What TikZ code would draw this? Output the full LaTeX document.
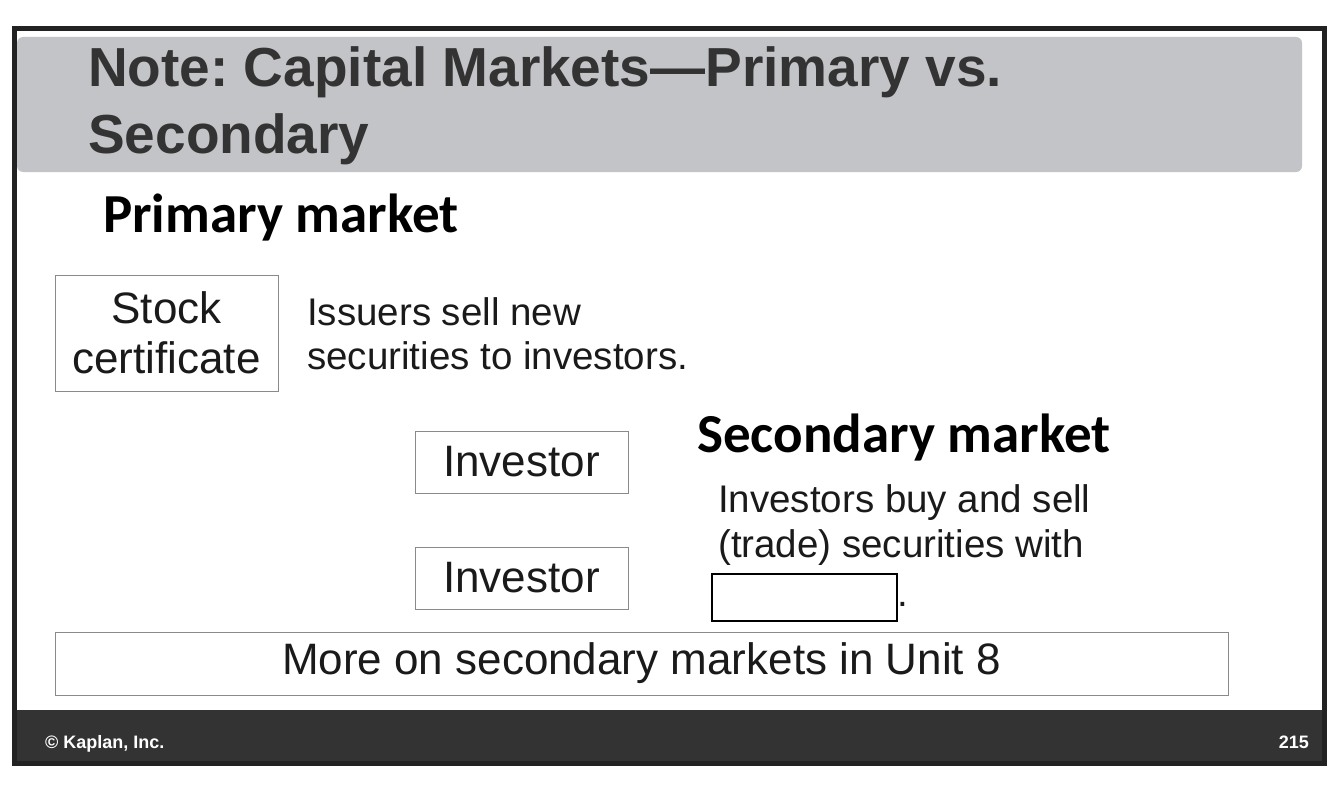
\documentclass[tikz,border=0pt]{standalone}
\usepackage{fontspec}
\setmainfont{Liberation Sans}
\newfontfamily\headfont{Carlito}
\frenchspacing
\definecolor{titlegrey}{HTML}{C3C4C7}
\definecolor{darkbar}{HTML}{333333}
\definecolor{frame}{HTML}{222222}
\definecolor{boxline}{HTML}{8A8A8A}
\definecolor{txt}{HTML}{1A1A1A}
\begin{document}
\begin{tikzpicture}[x=1pt,y=-1pt,
  plainbox/.style={draw=boxline, line width=1pt, fill=white, inner sep=0pt, align=center, text=txt, font=\fontsize{44}{50}\selectfont},
  bodytext/.style={anchor=base west, inner sep=0pt, text=txt, font=\fontsize{38.5}{45}\selectfont},
  headtext/.style={anchor=base west, inner sep=0pt, text=black, font=\headfont\bfseries\fontsize{55}{60}\selectfont},
  titletext/.style={anchor=base west, inner sep=0pt, text=darkbar, font=\bfseries\fontsize{55}{66}\selectfont},
  foottext/.style={inner sep=0pt, text=white, font=\bfseries\fontsize{18}{20}\selectfont}]
\useasboundingbox (0,0) rectangle (1334,792);
\fill[white] (0,0) rectangle (1334,792);
% title bar
\fill[titlegrey, rounded corners=6pt] (17,37) rectangle (1302,172);
\node[titletext] (t1) at (88,86) {Note: Capital Markets—Primary vs.};
\node[titletext] (t2) at (88,153) {Secondary};
% footer bar
\fill[darkbar] (16,710) rectangle (1324,763);
\node[foottext, anchor=base west] (copy) at (45,748) {© Kaplan, Inc.};
\node[foottext, anchor=base east] (page) at (1309,748) {215};
% frame
\draw[frame, line width=5pt] (14.5,28.5) rectangle (1324.5,763.5);
% primary market
\node[headtext] (prim) at (103,232) {Primary market};
\node[plainbox, minimum width=223pt, minimum height=116pt] (stock) at (166.5,333) {Stock\\certificate};
\node[bodytext] (iss1) at (307,325) {Issuers sell new};
\node[bodytext] (iss2) at (307,369) {securities to investors.};
\node[plainbox, minimum width=213pt, minimum height=62pt] (inv1) at (521.5,462) {Investor};
\node[plainbox, minimum width=213pt, minimum height=62pt] (inv2) at (521.5,578) {Investor};
% secondary market
\node[headtext] (sec) at (697,452) {Secondary market};
\node[bodytext] (sb1) at (718,512) {Investors buy and sell};
\node[bodytext] (sb2) at (718,557) {(trade) securities with};
\node[draw=black, line width=1.5pt, fill=white, minimum width=185pt, minimum height=47pt, inner sep=0pt] (blank) at (804.5,597.5) {};
\node[bodytext, anchor=base west] (dot) at (blank.east |- 0,606) {.};
% bottom box
\node[plainbox, minimum width=1173pt, minimum height=63pt] (more) at (641.5,663.5) {More on secondary markets in Unit 8};
\end{tikzpicture}
\end{document}
